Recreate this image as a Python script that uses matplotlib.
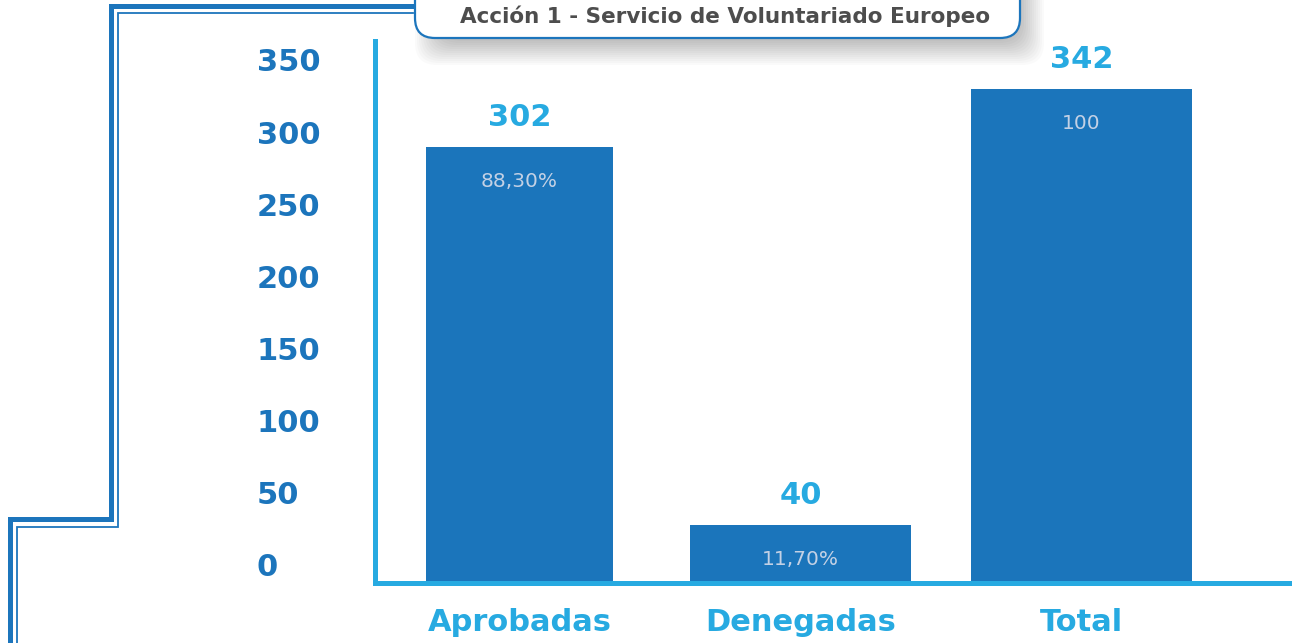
import numpy as np
import matplotlib
matplotlib.use("Agg")
import matplotlib.pyplot as plt
from matplotlib.lines import Line2D
from matplotlib.patches import FancyBboxPatch
from matplotlib.transforms import ScaledTranslation

# data
categories = ["Aprobadas", "Denegadas", "Total"]
values = [302, 40, 342]
inner_labels = ["88,30%", "11,70%", "100"]
y_ticks = [0, 50, 100, 150, 200, 250, 300, 350]
title = "Acción 1 - Servicio de Voluntariado Europeo"

BAR = "#1b75bb"
LIGHT = "#27aae1"
DARK = "#1c75bc"
W, H = 1292, 643

plt.rcParams["font.family"] = ["DejaVu Sans"]
fig = plt.figure(figsize=(W / 100, H / 100), dpi=100)
fig.patch.set_facecolor("white")


def inch(x, y):
    return x / 100, (H - y) / 100


# axes placed by pixel edges
left, right, top, bottom = 374.5, 1292, 41, 582.5
ax = fig.add_axes([left / W, (H - bottom) / H, (right - left) / W, (bottom - top) / H])
ax.set_facecolor("none")

x = np.arange(len(categories))
widths = [0.665, 0.786, 0.786]
ax.bar(x, values, width=widths, color=BAR, zorder=2)

px_per_unit = 1.443
ax.set_ylim(0, (bottom - top) / px_per_unit)
ax.set_xlim((left - 519.5) / 281, (right - 519.5) / 281)

for xi, v, lab in zip(x, values, inner_labels):
    ax.annotate(str(v), (xi, v), xytext=(0, 21), textcoords="offset points",
                ha="center", va="center", fontsize=22, fontweight="bold",
                color=LIGHT)
    ax.annotate(lab, (xi, v), xytext=(0, -25), textcoords="offset points",
                ha="center", va="center", fontsize=14.5, color="#c3d1e5",
                zorder=3)

for s in ["top", "right"]:
    ax.spines[s].set_visible(False)
for s in ["left", "bottom"]:
    ax.spines[s].set_color(LIGHT)
    ax.spines[s].set_linewidth(3.6)
    ax.spines[s].set_zorder(4)

ax.set_xticks(x)
ax.set_xticklabels(categories, fontsize=22, fontweight="bold", color=LIGHT)
ax.tick_params(axis="x", length=0, pad=18.5)

ax.set_yticks(y_ticks)
ax.set_yticklabels([str(t) for t in y_ticks], fontsize=22, fontweight="bold",
                   color=DARK)
ax.tick_params(axis="y", length=0, pad=84.6)
shift = ScaledTranslation(0, 17.5 / 100, fig.dpi_scale_trans)
for lab in ax.get_yticklabels():
    lab.set_horizontalalignment("left")
    lab.set_transform(lab.get_transform() + shift)

# decorative frame lines
thick = [(413, 5.8), (110.8, 5.8), (110.8, 519), (9.8, 519), (9.8, 660)]
thin = [(413, 13.2), (117.5, 13.2), (117.5, 526.8), (16.8, 526.8), (16.8, 660)]
for path, lw in [(thick, 3.6), (thin, 1.3)]:
    xs, ys = zip(*[inch(a, b) for a, b in path])
    fig.add_artist(Line2D(xs, ys, lw=lw, color=DARK, solid_joinstyle="miter",
                          transform=fig.dpi_scale_trans, zorder=1))

# title box with soft shadow
bx0, bx1, by1 = 415, 1020, 38
dx, dy, blur = 12, 15, 12
for k in range(-blur, blur + 1, 2):
    x0, y0 = inch(bx0 + dx - k, by1 + dy + k)
    sh = FancyBboxPatch((x0, y0), (bx1 - bx0 + 2 * k) / 100, 1.0,
                        boxstyle="round,pad=0,rounding_size=0.22",
                        fc="#000000", ec="none", alpha=0.02,
                        transform=fig.dpi_scale_trans, zorder=5)
    fig.add_artist(sh)

x0, y0 = inch(bx0, by1)
box = FancyBboxPatch((x0, y0), (bx1 - bx0) / 100, 1.0,
                     boxstyle="round,pad=0,rounding_size=0.2",
                     fc="white", ec=DARK, lw=1.6,
                     transform=fig.dpi_scale_trans, zorder=6)
fig.add_artist(box)
tx, ty = inch(725, 16)
fig.text(tx / (W / 100), ty / (H / 100), title, ha="center", va="center",
         fontsize=15.5, fontweight="bold", color="#4d4d4d", zorder=7)

fig.savefig("out.png", dpi=100, facecolor="white")
